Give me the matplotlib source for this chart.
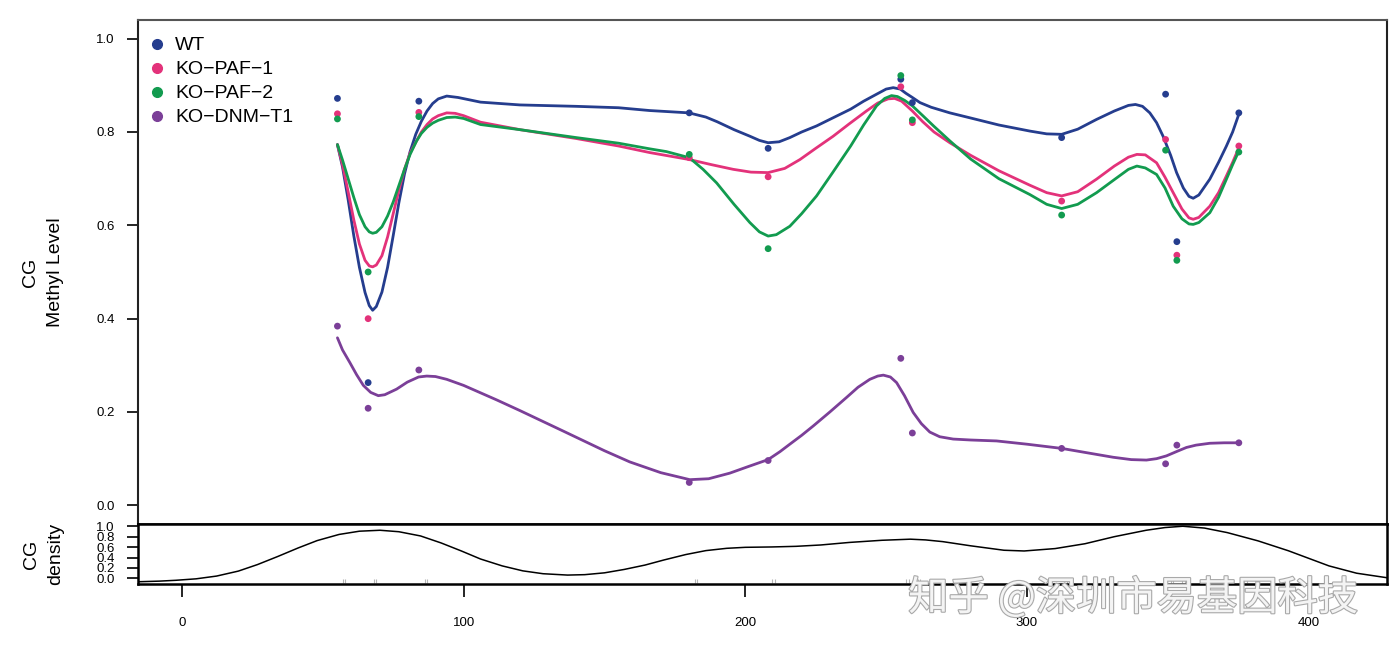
import matplotlib
matplotlib.use('Agg')
import matplotlib.pyplot as plt
import matplotlib.patheffects as pe
from matplotlib.lines import Line2D

plt.rcParams['font.family'] = ['Liberation Sans', 'DejaVu Sans']

# ---------------- data ----------------
sites = [55.2, 66.1, 84.1, 180.1, 208.1, 255.2, 259.3, 312.3, 349.2, 353.2, 375.2]
wt_pts = [0.872, 0.263, 0.866, 0.841, 0.765, 0.913, 0.863, 0.788, 0.881, 0.565, 0.841]
paf1_pts = [0.839, 0.400, 0.842, 0.745, 0.704, 0.897, 0.820, 0.652, 0.784, 0.536, 0.770]
paf2_pts = [0.828, 0.500, 0.833, 0.752, 0.550, 0.921, 0.826, 0.622, 0.761, 0.525, 0.757]
dnm_pts = [0.384, 0.208, 0.290, 0.049, 0.096, 0.315, 0.155, 0.122, 0.089, 0.129, 0.134]

wt_fit_x = [55.2, 57, 59, 61, 63, 65, 66.5, 67.7, 69, 71, 73, 75, 77, 79, 81, 83, 85, 87, 89, 91, 94, 98,
            106, 120, 140, 155, 166, 180, 186, 190, 196, 201.6, 205, 208.1, 212, 215.8, 220, 225.3, 231,
            237.4, 242, 246.6, 250, 252.5, 255, 257, 259.3, 262, 266, 272.6, 280, 290, 301, 307, 312.3,
            318, 324.7, 331, 336, 338.5, 341, 343.6, 346, 348.3, 351, 353.1, 355.5, 357.5, 359, 361,
            364.9, 368, 370.8, 373, 375.2]
wt_fit_y = [0.773, 0.725, 0.655, 0.578, 0.510, 0.456, 0.428, 0.418, 0.426, 0.457, 0.510, 0.578, 0.648,
            0.710, 0.758, 0.795, 0.823, 0.845, 0.861, 0.871, 0.877, 0.874, 0.864, 0.858, 0.855, 0.852,
            0.846, 0.841, 0.832, 0.822, 0.805, 0.791, 0.782, 0.777, 0.779, 0.788, 0.800, 0.813, 0.830,
            0.849, 0.866, 0.881, 0.892, 0.895, 0.892, 0.883, 0.874, 0.863, 0.853, 0.841, 0.830, 0.815,
            0.802, 0.796, 0.795, 0.806, 0.827, 0.845, 0.857, 0.859, 0.855, 0.841, 0.820, 0.791, 0.750,
            0.713, 0.680, 0.662, 0.658, 0.665, 0.699, 0.735, 0.770, 0.800, 0.838]

paf1_fit_x = [55.2, 57, 59, 61, 63, 65, 66.5, 67.7, 69, 71, 73, 75, 77, 79, 81, 83.3, 85, 87, 89, 91, 94,
              97, 100, 106, 120, 140, 155, 166, 180.1, 188, 195.7, 202, 208.1, 214, 219.4, 225, 231.2,
              237, 243, 247, 250.7, 253, 255.5, 259.3, 263, 267, 272.6, 280, 290, 301, 307, 312.3, 318,
              324.7, 331, 336, 339, 342, 346, 349, 351.9, 355, 357.5, 359, 361, 364.9, 368, 370.8, 373,
              375.2]
paf1_fit_y = [0.773, 0.730, 0.672, 0.612, 0.560, 0.525, 0.513, 0.511, 0.515, 0.535, 0.575, 0.625, 0.675,
              0.720, 0.755, 0.781, 0.800, 0.816, 0.828, 0.835, 0.841, 0.840, 0.835, 0.821, 0.805, 0.786,
              0.770, 0.756, 0.741, 0.730, 0.720, 0.714, 0.713, 0.722, 0.741, 0.765, 0.791, 0.818, 0.845,
              0.862, 0.871, 0.872, 0.866, 0.845, 0.822, 0.800, 0.777, 0.750, 0.717, 0.686, 0.670, 0.663,
              0.672, 0.699, 0.727, 0.746, 0.752, 0.751, 0.734, 0.703, 0.670, 0.635, 0.616, 0.613, 0.617,
              0.641, 0.670, 0.706, 0.735, 0.766]

paf2_fit_x = [55.2, 57, 59, 61, 63, 65, 66.5, 67.7, 69, 71, 73, 75, 77, 79, 81, 83.3, 85, 87, 89, 91, 94,
              97, 100, 106, 120, 140, 155, 166, 172, 180.1, 185, 189.8, 196, 201.6, 205, 208.1, 211,
              215.8, 220, 225.3, 231, 237.4, 242, 246.6, 249.5, 251.9, 254, 256.5, 259.3, 263, 267,
              272.6, 280, 290, 301, 307, 312.3, 318, 324.7, 331, 336, 339, 342, 346, 349, 351.9, 355,
              357.5, 359, 361, 364.9, 368, 370.8, 373, 375.2]
paf2_fit_y = [0.773, 0.740, 0.700, 0.660, 0.623, 0.597, 0.586, 0.583, 0.585, 0.597, 0.620, 0.650, 0.685,
              0.720, 0.752, 0.781, 0.797, 0.810, 0.819, 0.825, 0.831, 0.832, 0.829, 0.816, 0.805, 0.788,
              0.776, 0.764, 0.758, 0.745, 0.720, 0.691, 0.645, 0.606, 0.586, 0.577, 0.580, 0.598, 0.625,
              0.663, 0.713, 0.770, 0.815, 0.856, 0.872, 0.878, 0.876, 0.868, 0.856, 0.835, 0.812, 0.781,
              0.742, 0.700, 0.666, 0.645, 0.636, 0.645, 0.670, 0.698, 0.720, 0.727, 0.723, 0.709, 0.680,
              0.641, 0.614, 0.603, 0.602, 0.606, 0.627, 0.660, 0.699, 0.730, 0.759]

dnm_fit_x = [55.2, 57, 59.6, 62, 64.4, 67, 69.7, 72, 76.2, 80, 84, 86.9, 90, 94, 100, 111.7, 120, 135.4,
             150, 159, 170, 180.3, 187, 194.5, 201, 208.1, 212.3, 215.8, 220, 224.1, 230, 235.9, 240,
             244.2, 247, 249, 251.5, 253.7, 256.5, 259.6, 262.5, 265.5, 269, 273.8, 280, 289.2, 300,
             312.3, 320, 330.6, 337, 342.4, 346, 349.5, 353, 356.6, 360, 364.9, 370, 375.3]
dnm_fit_y = [0.359, 0.333, 0.306, 0.280, 0.257, 0.242, 0.235, 0.237, 0.249, 0.264, 0.275, 0.277, 0.276,
             0.270, 0.257, 0.226, 0.203, 0.159, 0.117, 0.093, 0.070, 0.055, 0.057, 0.069, 0.083, 0.098,
             0.115, 0.131, 0.150, 0.170, 0.200, 0.231, 0.253, 0.270, 0.277, 0.279, 0.275, 0.263, 0.235,
             0.199, 0.175, 0.157, 0.147, 0.142, 0.140, 0.138, 0.131, 0.122, 0.114, 0.103, 0.098, 0.097,
             0.100, 0.106, 0.115, 0.124, 0.129, 0.133, 0.134, 0.134]

dens_x = [-15.6, -8, -2.2, 5, 12.3, 20, 26.8, 34, 41.3, 48, 55.8, 63, 70.3, 77, 84.7, 92, 99.2, 106,
          113.7, 121, 128.2, 136.9, 143, 150, 157, 164.4, 171, 178.9, 186, 193.4, 200, 209.4, 218,
          226.8, 237, 248.5, 258.6, 264, 270.1, 280, 291.8, 299, 310, 320.6, 331, 342.3, 349, 355.3,
          363, 371.1, 382, 392.8, 400, 407.2, 417, 427.8]
dens_y = [-0.064, -0.052, -0.036, -0.008, 0.045, 0.140, 0.265, 0.420, 0.585, 0.725, 0.843, 0.905, 0.923,
          0.895, 0.814, 0.680, 0.526, 0.372, 0.240, 0.145, 0.090, 0.064, 0.072, 0.107, 0.172, 0.256,
          0.352, 0.458, 0.533, 0.577, 0.596, 0.603, 0.615, 0.641, 0.690, 0.731, 0.752, 0.738, 0.705,
          0.625, 0.540, 0.526, 0.572, 0.665, 0.800, 0.923, 0.975, 1.000, 0.965, 0.878, 0.720, 0.530,
          0.385, 0.240, 0.100, 0.013]

rug_x = [57.2, 58.0, 68.1, 68.9, 86.2, 87.0, 182.2, 183.0, 209.6, 210.4, 257.2, 258.0, 261.2, 262.0,
         314.2, 315.0, 351.2, 352.0, 355.2, 356.0, 377.2, 378.0]

labels = ['WT', 'KO\u2212PAF\u22121', 'KO\u2212PAF\u22122', 'KO\u2212DNM\u2212T1']
colors = ['#253D8E', '#E3327A', '#129B4F', '#7B3F98']
y_ticks = [0.0, 0.2, 0.4, 0.6, 0.8, 1.0]
x_ticks = [0, 100, 200, 300, 400]
watermark = '知乎 @深圳市易基因科技'

# ---------------- figure ----------------
W, H = 1397, 653
fig = plt.figure(figsize=(W / 100, H / 100), dpi=100)


def rect(l, t, r, b):
    return [l / W, 1 - b / H, (r - l) / W, (b - t) / H]


ax = fig.add_axes(rect(138, 20, 1387, 524))
axd = fig.add_axes(rect(138, 524, 1387, 584), sharex=ax)

fits = [(wt_fit_x, wt_fit_y), (paf1_fit_x, paf1_fit_y), (paf2_fit_x, paf2_fit_y), (dnm_fit_x, dnm_fit_y)]
pts = [wt_pts, paf1_pts, paf2_pts, dnm_pts]
for (fx, fy), c in zip(fits, colors):
    ax.plot(fx, fy, color=c, lw=2.0, solid_capstyle='round', solid_joinstyle='round', zorder=2)
for p, c in zip(pts, colors):
    ax.scatter(sites, p, s=24, color=c, edgecolors='none', zorder=3)

ax.set_xlim(-15.6, 427.8)
ax.set_ylim(-0.04, 1.04)
ax.set_yticks(y_ticks)
ax.set_yticklabels([f'{v:.1f}' for v in y_ticks])
ax.tick_params(axis='y', direction='out', length=8, width=1.2, pad=9, labelsize=9.5)
ax.tick_params(axis='x', bottom=False, labelbottom=False)
ax.spines['top'].set_color('#555555')
ax.spines['top'].set_linewidth(1.5)
for s in ['left', 'right']:
    ax.spines[s].set_color('#222222')
    ax.spines[s].set_linewidth(1.5)
ax.spines['bottom'].set_linewidth(1.8)

handles = [Line2D([], [], ls='none', marker='o', markersize=7, color=c) for c in colors]
leg = ax.legend(handles, labels, loc='upper left', bbox_to_anchor=(0.0, 0.988), frameon=False,
                fontsize=14, handlelength=0.9, handletextpad=0.45, labelspacing=0.33,
                borderaxespad=0.25, borderpad=0.3)

# density panel
axd.plot(dens_x, dens_y, color='black', lw=1.1, solid_joinstyle='round')
axd.vlines(rug_x, -0.085, -0.005, color='#b5b5b5', lw=0.8)
axd.set_ylim(-0.107, 1.043)
axd.set_yticks(y_ticks)
axd.set_yticklabels([f'{v:.1f}' for v in y_ticks])
axd.set_xticks(x_ticks)
axd.set_xticklabels([str(v) for v in x_ticks])
axd.tick_params(axis='y', direction='out', length=8, width=1.2, pad=9, labelsize=9.5)
axd.tick_params(axis='x', direction='out', length=9, width=1.2, pad=15, labelsize=9.5)
for s in axd.spines.values():
    s.set_linewidth(1.8)
    s.set_color('black')

fig.text(43 / W, 1 - 272 / H, 'CG\nMethyl Level', rotation=90, ha='center', va='center',
         fontsize=14, multialignment='center', linespacing=1.55)
fig.text(44 / W, 1 - 554 / H, 'CG\ndensity', rotation=90, ha='center', va='center',
         fontsize=14, multialignment='center', linespacing=1.55)

fig.text(1133 / W, 1 - 598 / H, watermark, fontsize=29, family=['Noto Sans CJK SC', 'DejaVu Sans'],
         color='#f4f4f4', ha='center', va='center', zorder=10,
         path_effects=[pe.withStroke(linewidth=1.6, foreground='#a9a9a9')])

fig.savefig('out.png', dpi=100)
